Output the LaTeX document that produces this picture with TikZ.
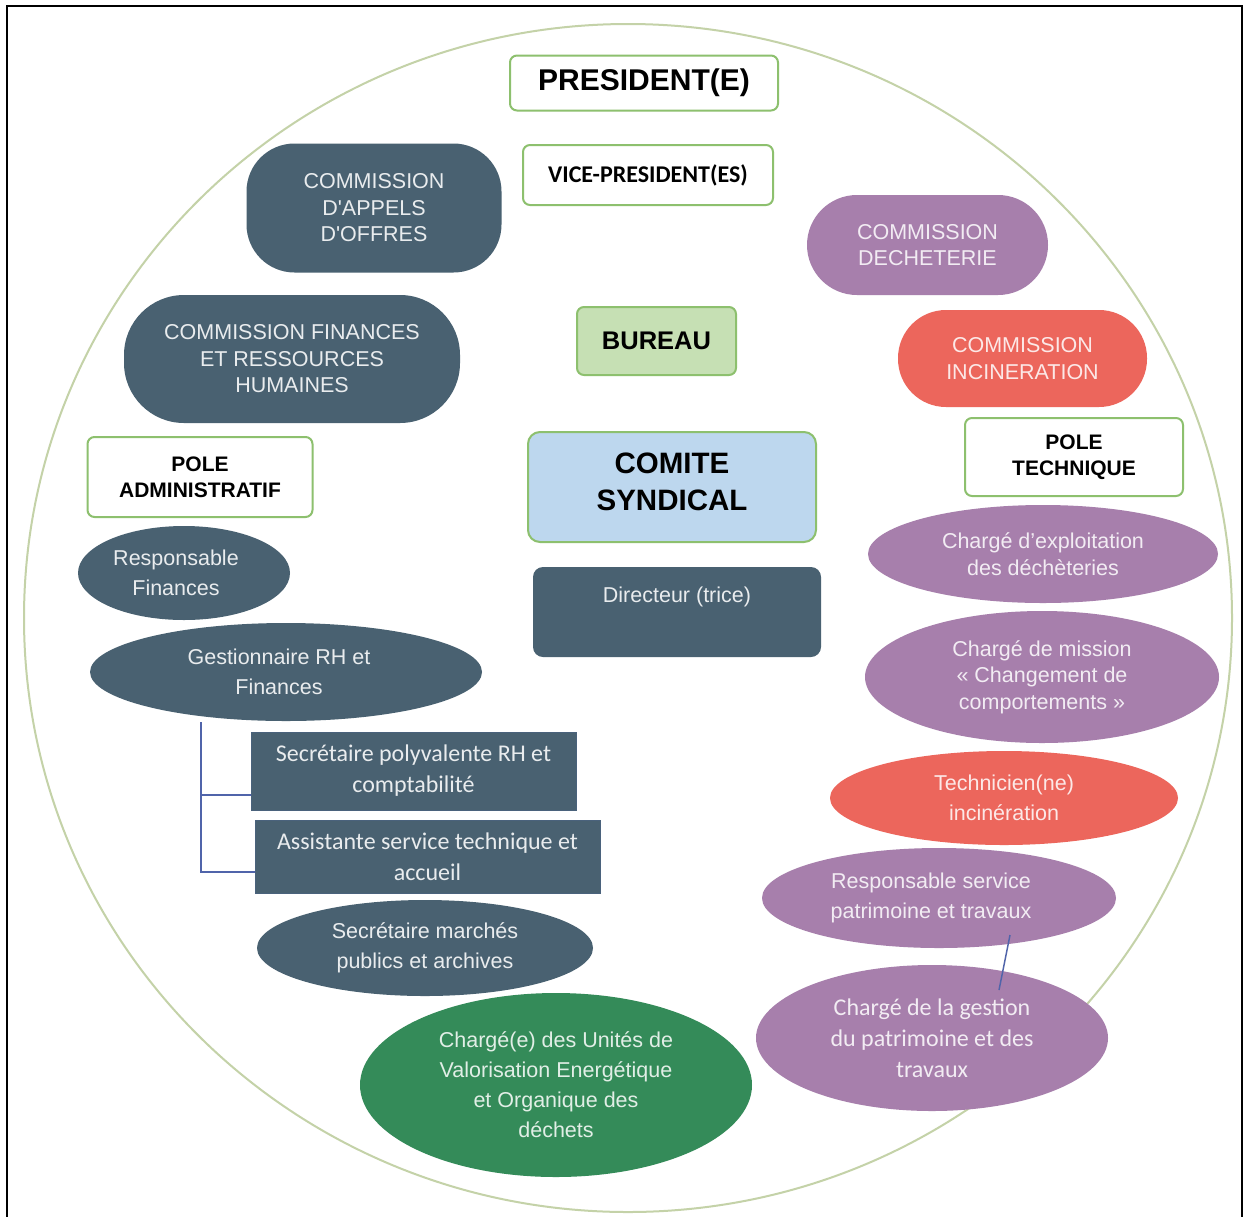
\documentclass[tikz,border=0pt]{standalone}
\usepackage{fontspec}
\setmainfont{Liberation Sans}
\newfontfamily\calibri{Carlito}
\usetikzlibrary{shapes.geometric}

\definecolor{slate}{RGB}{73,97,113}
\definecolor{mauve}{RGB}{167,127,172}
\definecolor{coral}{RGB}{236,102,92}
\definecolor{leaf}{RGB}{52,139,89}
\definecolor{palegreen}{RGB}{198,224,180}
\definecolor{paleblue}{RGB}{189,215,238}
\definecolor{rimgreen}{RGB}{141,192,110}
\definecolor{ringcol}{RGB}{196,210,168}
\definecolor{linkblue}{RGB}{80,100,170}

\newcommand{\txtell}{\fontsize{21.5}{30}\selectfont}
\newcommand{\txtcomm}{\fontsize{21.5}{26.5}\selectfont}
\newcommand{\txtcal}{\calibri\fontsize{24}{31}\selectfont}

\tikzset{
	whitebox/.style={draw=rimgreen, fill=white, line width=2pt, rounded corners=7pt, inner sep=0pt, align=center, text=black},
	comm/.style={inner sep=0pt, align=center, font=\txtcomm},
	oval/.style={ellipse, inner sep=0pt, align=center, font=\txtell},
	flat/.style={fill=slate, draw=slate!80!linkblue, line width=1pt, inner sep=0pt, align=center, text=white!88!slate, font=\txtcal},
	link/.style={draw=linkblue, line width=1.5pt}
}

\begin{document}
\begin{tikzpicture}[x=1pt,y=-1pt]
	\useasboundingbox (0,0) rectangle (1244,1216);
	\clip (0,0) rectangle (1244,1216);
	\fill[white] (0,0) rectangle (1244,1216);
	\draw[line width=2.5pt] (7,6) rectangle (1242,1230);
	\draw[ringcol, line width=2pt] (628,618) ellipse [x radius=604, y radius=594];

	% top
	\node[whitebox, minimum width=268, minimum height=55, font=\bfseries\fontsize{30}{36}\selectfont] (pres) at (644,83) {PRESIDENT(E)};
	\node[whitebox, minimum width=250, minimum height=60, font=\calibri\bfseries\fontsize{24}{30}\selectfont] (vice) at (648,175) {VICE-PRESIDENT(ES)};

	% commissions
	\node[comm, fill=slate, text=white!88!slate, rounded corners=48pt, minimum width=255, minimum height=129] (cao) at (374,208) {COMMISSION\\D\textquotesingle APPELS\\D\textquotesingle OFFRES};
	\node[comm, fill=slate, text=white!88!slate, rounded corners=60pt, minimum width=336, minimum height=128] (cfin) at (292,359) {COMMISSION FINANCES\\ET RESSOURCES\\HUMAINES};
	\node[comm, fill=mauve, text=white!85!mauve, rounded corners=50pt, minimum width=241, minimum height=100] (cdech) at (927.5,245) {COMMISSION\\DECHETERIE};
	\node[comm, fill=coral, text=white!85!coral, rounded corners=48pt, minimum width=249, minimum height=97] (cinc) at (1022.5,358.5) {COMMISSION\\INCINERATION};

	% centre
	\node[whitebox, fill=palegreen, minimum width=159, minimum height=68, font=\bfseries\fontsize{25.5}{30}\selectfont] (bureau) at (656.5,341) {BUREAU};
	\node[whitebox, fill=paleblue, minimum width=288, minimum height=110, rounded corners=12pt, font=\bfseries\fontsize{29.5}{37}\selectfont] (comite) at (672,487) {COMITE\\SYNDICAL\\[-27pt]\mbox{}};
	\node[fill=slate, rounded corners=10pt, inner sep=0pt, align=center, text=white!88!slate, font=\txtell, minimum width=288, minimum height=90] (direct) at (677,612) {Directeur (trice)\\[5pt]\mbox{}};

	% pole administratif
	\node[whitebox, minimum width=225, minimum height=80, font=\bfseries\fontsize{21}{26}\selectfont] (poleadm) at (200,477) {POLE\\ADMINISTRATIF};
	\node[oval, fill=slate, text=white!88!slate, minimum width=212, minimum height=94] (respfin) at (184,573) {Responsable\hspace*{16pt}\\Finances\hspace*{16pt}};
	\node[oval, fill=slate, text=white!88!slate, minimum width=392, minimum height=98] (gestrh) at (286,672) {Gestionnaire RH et\hspace*{14pt}\\Finances\hspace*{14pt}};
	\node[flat, minimum width=325, minimum height=78] (secrh) at (413.5,771) {Secrétaire polyvalente RH et\\comptabilité};
	\node[flat, minimum width=345, minimum height=73] (assist) at (427.5,856.5) {Assistante service technique et\\accueil};
	\node[oval, fill=slate, text=white!88!slate, minimum width=336, minimum height=96] (secmar) at (425,948) {Secrétaire marchés\\publics et archives};
	\node[oval, fill=leaf, text=white!85!leaf, minimum width=392, minimum height=184] (valo) at (556,1085) {Chargé(e) des Unités de\\Valorisation Energétique\\et Organique des\\déchets};

	\coordinate (brtop) at (201,722);
	\coordinate (brmid) at (201,795);
	\coordinate (brbot) at (201,872);
	\draw[link] (brtop) -- (brbot) -- (brbot -| assist.west);
	\draw[link] (brmid) -- (brmid -| secrh.west);

	% pole technique
	\node[whitebox, minimum width=218, minimum height=78, font=\bfseries\fontsize{21}{26}\selectfont] (poletech) at (1074,457) {POLE\\TECHNIQUE};
	\node[oval, fill=mauve, text=white!85!mauve, minimum width=350, minimum height=98, font=\fontsize{21.5}{27}\selectfont] (chexp) at (1043,554) {Chargé d'exploitation\\des déchèteries};
	\node[oval, fill=mauve, text=white!85!mauve, minimum width=354, minimum height=132, font=\fontsize{21.5}{26.5}\selectfont] (chmis) at (1042,677) {Chargé de mission\\« Changement de\\comportements »};
	\node[oval, fill=coral, text=white!85!coral, minimum width=348, minimum height=94] (techinc) at (1004,798) {Technicien(ne)\\incinération};
	\node[oval, fill=mauve, text=white!85!mauve, minimum width=354, minimum height=100] (resppat) at (939,898) {Responsable service\hspace*{16pt}\\patrimoine et travaux\hspace*{16pt}};
	\node[oval, fill=mauve, text=white!85!mauve, minimum width=352, minimum height=146, font=\txtcal] (chgest) at (932,1038) {Chargé de la gestion\\du patrimoine et des\\travaux};

	\coordinate (patA) at (1010,935);
	\coordinate (patB) at (999,990);
	\draw[link] (patA) -- (patB);
\end{tikzpicture}
\end{document}
